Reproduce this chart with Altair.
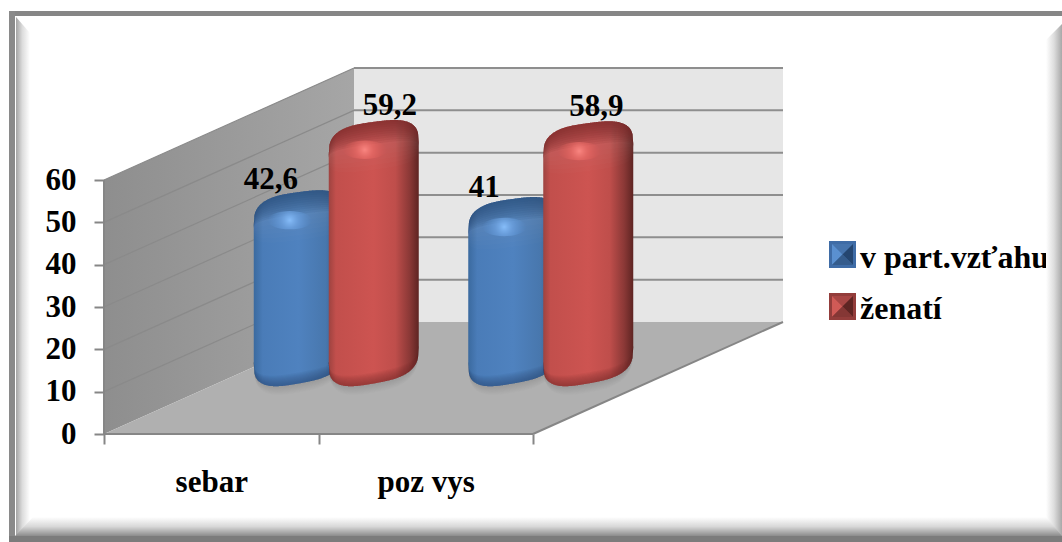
import altair as alt
import numpy as np

# Chart values
CATEGORIES = ["sebar", "poz vys"]
SERIES = ["v part.vzťahu", "ženatí"]
PARTNER = [42.6, 41.0]
MARRIED = [59.2, 58.9]
VALUE_TICKS = [0, 10, 20, 30, 40, 50, 60]

# Oblique projection of the 3D box, expressed in pixels per axis unit
FONT = "Liberation Serif"
TEXT_SIZE = 31
PX_PER_CAT = 214.5
PX_PER_VAL = 254 / 60
FLOOR_PY = 434
LEFT_PX = 104
DEPTH_X = 250 / PX_PER_CAT
DEPTH_Y = 112 / PX_PER_VAL
BAR_DEPTH = 0.5
BAR_HALF_W = 45 / PX_PER_CAT
BAR_SHIFT = 37.5 / PX_PER_CAT
WIDTH, HEIGHT = 958, FLOOR_PY

x_scale = alt.Scale(domain=[0, WIDTH / PX_PER_CAT], nice=False, zero=False)
y_scale = alt.Scale(domain=[0, HEIGHT / PX_PER_VAL], nice=False, zero=False)

x_axis = alt.Axis(
    values=[0, 0.5, 1, 1.5, 2], title=None, domain=False, grid=False,
    tickSize=10, tickColor="#868686", tickWidth=2,
    tickOpacity={"condition": {"test": "datum.value % 1 != 0", "value": 0}, "value": 1},
    labelExpr=f"datum.value == 0.5 ? '{CATEGORIES[0]}' : datum.value == 1.5 ? '{CATEGORIES[1]}' : ''",
    labelFont=FONT, labelFontSize=TEXT_SIZE, labelFontWeight="bold", labelColor="black",
    labelPadding=23, labelFlush=False, labelOverlap=False, labelBound=False,
)
y_axis = alt.Axis(
    values=VALUE_TICKS, title=None, domain=False, grid=False,
    tickSize=10, tickColor="#868686", tickWidth=2,
    labelFont=FONT, labelFontSize=TEXT_SIZE, labelFontWeight="bold", labelColor="black",
    labelPadding=18, labelFlush=False, labelOverlap=False, labelBound=False,
)


def cx(px):
    return (px - LEFT_PX) / PX_PER_CAT


def vy(py):
    return (FLOOR_PY - py) / PX_PER_VAL


def X():
    return alt.X("x:Q", scale=x_scale, axis=x_axis)


def Y():
    return alt.Y("y:Q", scale=y_scale, axis=y_axis)


def linear(stops, vertical=False):
    return alt.LinearGradient(
        gradient="linear",
        x1=0, y1=0,
        x2=0 if vertical else 1,
        y2=1 if vertical else 0,
        stops=[alt.GradientStop(offset=o, color=c) for o, c in stops],
    )


def radial(stops):
    return alt.RadialGradient(
        gradient="radial", x1=0.5, y1=0.5, x2=0.5, y2=0.5, r1=0, r2=0.5,
        stops=[alt.GradientStop(offset=o, color=c) for o, c in stops],
    )


def rect(x0, x1, y0, y1, fill):
    data = alt.Data(values=[{"x": cx(x0), "x2": cx(x1), "y": vy(y0), "y2": vy(y1)}])
    return alt.Chart(data).mark_rect(fill=fill).encode(X(), alt.X2("x2:Q"), Y(), alt.Y2("y2:Q"))


def vertical_band(rows, fill):
    """Bevel whose edge is vertical: rows are (px, top py, bottom py)."""
    data = alt.Data(values=[{"x": cx(a), "y": vy(b), "y2": vy(c)} for a, b, c in rows])
    return alt.Chart(data).mark_area(fill=fill, orient="vertical").encode(X(), Y(), alt.Y2("y2:Q"))


def horizontal_band(rows, fill):
    """Bevel whose edge is horizontal: rows are (py, left px, right px)."""
    data = alt.Data(values=[{"y": vy(a), "x": cx(b), "x2": cx(c)} for a, b, c in rows])
    return alt.Chart(data).mark_area(fill=fill, orient="horizontal").encode(X(), alt.X2("x2:Q"), Y())


# Picture frame with its bevelled inner edge
frame = [
    vertical_band([(16, 17, 538), (30, 33, 520)],
                  linear([(0, "#a4a4a4"), (0.45, "#dcdcdc"), (1, "#ffffff")])),
    vertical_band([(1046, 40, 518), (1062, 24, 538)],
                  linear([(0, "#ffffff"), (0.5, "#dddddd"), (1, "#a8a8a8")])),
    horizontal_band([(517, 33, 1046), (536, 15, 1062)],
                    linear([(0, "#ffffff"), (0.5, "#d8d8d8"), (1, "#8c8c8c")], vertical=True)),
    rect(9, 1062, 11, 16, "#868686"),
    rect(9, 15, 11, 542, "#8a8a8a"),
    rect(9, 1062, 536, 542, "#7c7c7c"),
]

# Walls and floor of the box
depth_pts = [0, 1]
side_wall = alt.Chart(alt.Data(values=[
    {"x": d * DEPTH_X, "y": 60 + d * DEPTH_Y, "y2": d * DEPTH_Y} for d in depth_pts
])).mark_area(fill=linear([(0, "#8e8e8e"), (1, "#a6a6a6")])).encode(X(), Y(), alt.Y2("y2:Q"))

back_left, back_right = DEPTH_X, DEPTH_X + len(CATEGORIES)
back_wall = alt.Chart(alt.Data(values=[
    {"x": xv, "y": 60 + DEPTH_Y, "y2": DEPTH_Y} for xv in (back_left, back_right)
])).mark_area(fill="#e6e6e6").encode(X(), Y(), alt.Y2("y2:Q"))

floor_x = [0, back_left, len(CATEGORIES), back_right]
floor_top = [0, DEPTH_Y, DEPTH_Y, DEPTH_Y]
floor_bottom = [0, 0, 0, DEPTH_Y]
floor = alt.Chart(alt.Data(values=[
    {"x": a, "y": b, "y2": c} for a, b, c in zip(floor_x, floor_top, floor_bottom)
])).mark_area(fill="#b0b0b0").encode(X(), Y(), alt.Y2("y2:Q"))

side_grid = alt.Chart(alt.Data(values=[
    {"x": d * DEPTH_X, "y": v + d * DEPTH_Y, "k": v}
    for v in VALUE_TICKS[1:] for d in depth_pts
])).mark_line(color="#8a8a8a", strokeWidth=1.2).encode(X(), Y(), alt.Detail("k:N"))

back_grid = alt.Chart(alt.Data(values=[
    {"x": xv, "y": v + DEPTH_Y, "k": v}
    for v in VALUE_TICKS[1:] for xv in (back_left, back_right)
])).mark_line(color="#8e8e8e", strokeWidth=2).encode(X(), Y(), alt.Detail("k:N"))

edges = alt.Chart(alt.Data(values=[
    {"x": a, "y": b, "k": k} for k, a, b in [
        ("axis", 0, 0), ("axis", 0, 60),
        ("front", 0, 0), ("front", len(CATEGORIES), 0),
        ("right", len(CATEGORIES), 0), ("right", back_right, DEPTH_Y),
    ]
])).mark_line(color="#868686", strokeWidth=2).encode(X(), Y(), alt.Detail("k:N"), order=alt.Order("x:Q"))


# Rounded, skewed columns
def top_edge(u):
    return 13 - 6 * u - 27 * (1 - abs(u) ** 3) ** (1 / 3)


def bottom_edge(u):
    return -12 - 8 * u + 28 * (1 - abs(u) ** 3) ** (1 / 3)


BASE_LIFT = BAR_DEPTH * DEPTH_Y
TOP_INSET = 2.0
BOTTOM_INSET = 2.5
SHADE_STEPS = 10


def bar_center(cat_index, series_index):
    return cat_index + 0.5 + BAR_DEPTH * DEPTH_X + (series_index - 0.5) * 2 * BAR_SHIFT


def bar_layers(values, series_index, body, dark, glow):
    shadow_rows, body_rows, cap_rows, band_rows, rim_rows, glow_rows = [], [], [], [], [], []
    for i, v in enumerate(values):
        c = bar_center(i, series_index)
        top_v = BASE_LIFT + v - TOP_INSET
        bot_v = BASE_LIFT + BOTTOM_INSET
        for u in np.linspace(-1, 1, 121):
            u = float(u)
            xv = c + u * BAR_HALF_W
            yt = top_v - top_edge(u) / PX_PER_VAL
            yb = bot_v - bottom_edge(u) / PX_PER_VAL
            round_u = (1 - abs(u) ** 3) ** (1 / 3)
            body_rows.append({"x": xv, "y": yt, "y2": yb, "b": i})
            # Nested strips follow the column's outline, so their overlap shades it smoothly
            for j in range(1, SHADE_STEPS + 1):
                f = j / SHADE_STEPS
                cap_rows.append({"x": xv, "y": yt, "y2": yt - f * (3 + 19 * round_u) / PX_PER_VAL, "b": f"{i}-{j}"})
                rim_rows.append({"x": xv, "y": yb + f * (2 + 9 * round_u) / PX_PER_VAL, "y2": yb, "b": f"{i}-{j}"})
                band_rows.append({"x": xv, "y": yt, "y2": yt - f * (8 + 40 * round_u) / PX_PER_VAL, "b": f"{i}-{j}"})
                shadow_rows.append({"x": xv, "y": yb + 4 / PX_PER_VAL, "y2": yb - f * 9 * round_u / PX_PER_VAL, "b": f"{i}-{j}"})
        glow_rows.append({"x": c - 9 / PX_PER_CAT, "y": top_v - 14 / PX_PER_VAL})

    def area(rows, fill, opacity=1.0):
        return alt.Chart(alt.Data(values=rows)).mark_area(fill=fill, opacity=opacity).encode(
            X(), Y(), alt.Y2("y2:Q"), alt.Detail("b:N"))

    highlight = alt.Chart(alt.Data(values=glow_rows)).mark_point(
        filled=True, fill=radial(glow), opacity=1, size=1936,
        shape="M-1,0A1,0.42,0,1,1,1,0A1,0.42,0,1,1,-1,0Z",
    ).encode(X(), Y())
    return [
        area(shadow_rows, "#666666", 0.02),
        area(body_rows, body),
        area(band_rows, "white", 0.012),
        area(cap_rows, dark, 0.11),
        area(rim_rows, dark, 0.07),
        highlight,
    ]


blue_bars = bar_layers(
    PARTNER, 0,
    linear([(0, "#3b6a9f"), (0.1, "#4a7cb8"), (0.5, "#4f82bf"), (0.8, "#4877ad"), (1, "#2f527c")]),
    "#264b78",
    [(0, "rgba(135,190,250,1)"), (0.4, "rgba(115,170,235,0.55)"), (1, "rgba(90,150,220,0)")],
)
red_bars = bar_layers(
    MARRIED, 1,
    linear([(0, "#9e4340"), (0.08, "#c24f4c"), (0.5, "#cd5451"), (0.74, "#bf4e4b"),
            (0.9, "#8a3836"), (1, "#5e2422")]),
    "#782826",
    [(0, "rgba(250,135,130,1)"), (0.4, "rgba(240,110,105,0.55)"), (1, "rgba(220,90,85,0)")],
)

# Value labels placed above each column
LABEL_OFFSETS = {(0, 0): (-28, 26), (0, 1): (16, 30), (1, 0): (-29, 25), (1, 1): (8, 30)}
label_rows = []
for s, values in enumerate((PARTNER, MARRIED)):
    for i, v in enumerate(values):
        dx, dy = LABEL_OFFSETS[(i, s)]
        label_rows.append({
            "x": bar_center(i, s) + dx / PX_PER_CAT,
            "y": BASE_LIFT + v - TOP_INSET + dy / PX_PER_VAL,
            "t": f"{v:g}".replace(".", ","),
        })
value_labels = alt.Chart(alt.Data(values=label_rows)).mark_text(
    font=FONT, fontSize=TEXT_SIZE, fontWeight="bold", color="black", baseline="middle", align="center",
).encode(X(), Y(), text="t:N")

# Legend: bevelled key squares with a text label
FACETS = [
    ("M-1,-1L1,-1L1,1L-1,1Z", 0),
    ("M-0.78,-0.78L0.78,-0.78L0,0Z", 1),
    ("M-0.78,-0.78L0,0L-0.78,0.78Z", 2),
    ("M0.78,-0.78L0.78,0.78L0,0Z", 3),
    ("M-0.78,0.78L0,0L0.78,0.78Z", 4),
]
KEY_COLORS = [
    ["#3f6ca6", "#4674ad", "#5a90d0", "#254670", "#355c8c"],
    ["#933d3b", "#a84644", "#d05a56", "#5f2523", "#853735"],
]
key_rows, text_rows = [], []
for s, (name, key_py, text_py, key_px) in enumerate(zip(SERIES, (254.5, 306.5), (258, 309), (842.5, 842.5))):
    for path, shade in FACETS:
        key_rows.append({"x": cx(key_px), "y": vy(key_py), "p": path, "c": KEY_COLORS[s][shade]})
    text_rows.append({"x": cx(860), "y": vy(text_py), "t": name})

legend_keys = alt.Chart(alt.Data(values=key_rows)).mark_point(filled=True, opacity=1, size=729).encode(
    X(), Y(), alt.Shape("p:N", scale=None), alt.Fill("c:N", scale=None))
legend_text = alt.Chart(alt.Data(values=text_rows)).mark_text(
    font=FONT, fontSize=32, fontWeight="bold", color="black", align="left", baseline="middle",
).encode(X(), Y(), text="t:N")

chart = alt.layer(
    side_wall, back_wall, floor, side_grid, back_grid, edges,
    *blue_bars, *red_bars, value_labels, legend_keys, legend_text, *frame,
).properties(
    width=WIDTH,
    height=HEIGHT,
    padding={"left": LEFT_PX, "top": 0, "right": 0, "bottom": 542 - HEIGHT},
    autosize=alt.AutoSizeParams(type="none"),
    background="white",
).configure_view(stroke=None)

chart.save("out.html", embed_options={"renderer": "svg", "actions": False})
